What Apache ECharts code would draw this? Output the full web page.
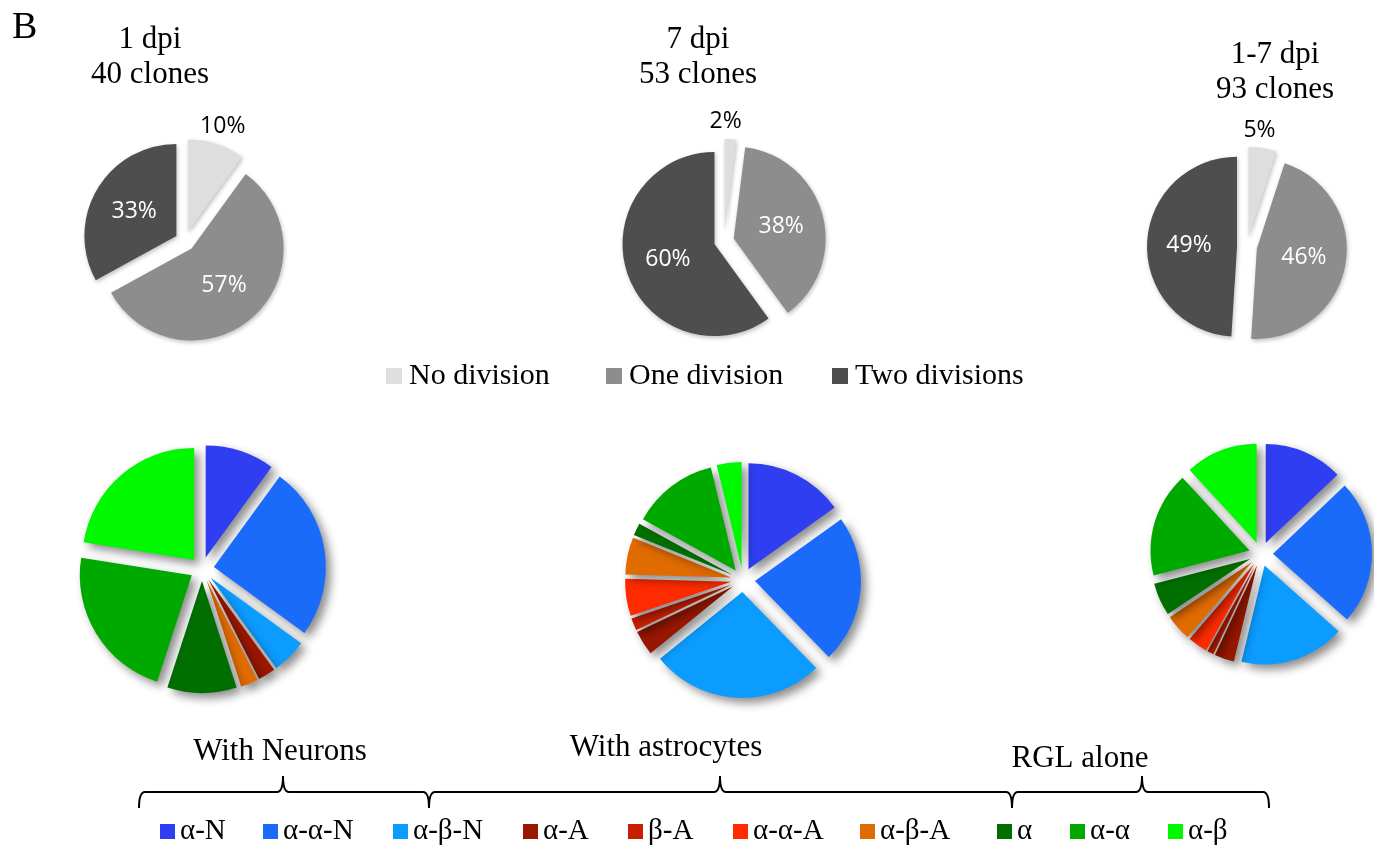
<!DOCTYPE html>
<html>
<head>
<meta charset="utf-8">
<script src="https://cdn.jsdelivr.net/npm/echarts@6/dist/echarts.min.js"></script>
<style>
  html, body { margin: 0; padding: 0; background: #fff; }
  #chart { width: 1374px; height: 849px; }
</style>
</head>
<body>
<div id="chart"></div>
<script>
// ---- data ----
const divisionNames = ['No division', 'One division', 'Two divisions'];
const division1dpi = [10, 57, 33];
const division7dpi = [2, 38, 60];
const division17dpi = [5, 46, 49];

const panelTitles = ['1 dpi\n40 clones', '7 dpi\n53 clones', '1-7 dpi\n93 clones'];

const cloneNames = ['α-N', 'α-α-N', 'α-β-N', 'α-A', 'β-A', 'α-α-A', 'α-β-A', 'α', 'α-α', 'α-β'];
const clones1dpi = [4, 10, 2, 1, 0, 0, 1, 4, 9, 9];
const clones7dpi = [8, 12, 14, 2, 1, 3, 3, 1, 7, 2];
const clones17dpi = [12, 22, 16, 3, 1, 3, 4, 5, 16, 11];

const groupNames = ['With Neurons', 'With astrocytes', 'RGL alone'];

// ---- styles & layout ----
const SERIF = '"Liberation Serif", "Times New Roman", serif';
const SANS = '"Open Sans", "Noto Sans", sans-serif';
const divisionColors = ['#dedede', '#8d8d8d', '#4e4e4e'];
const cloneColors = ['#2e3ef0', '#1b6bfb', '#0c9bff', '#991700', '#c91f00', '#ff2b00',
                     '#e06b00', '#006f00', '#00a900', '#00f800'];

const topLayout = [
  { center: [185, 241], radius: 92, title: [150, 22] },
  { center: [724, 241], radius: 92, title: [698, 22] },
  { center: [1247, 247], radius: 90, title: [1275, 37] }
];
const bottomLayout = [
  { center: [202, 569], radius: 112 },
  { center: [743, 580], radius: 106 },
  { center: [1261, 554], radius: 99 }
];
const divisionLegendX = [386, 606, 832];
const cloneLegendX = [160, 263, 393, 523, 628, 733, 860, 997, 1070, 1168];
// bracket: [left, right, peak]
const bracketSpans = [[139, 429, 283], [429, 1012, 720], [1012, 1269, 1142]];
const groupLabelPos = [[280, 734], [666, 730], [1080, 741]];
const bracketY = 792;

function divisionSeries(values, lay) {
  return {
    type: 'pie',
    center: lay.center,
    radius: lay.radius,
    startAngle: 90,
    selectedMode: 'multiple',
    selectedOffset: 10,
    avoidLabelOverlap: false,
    animation: false,
    emphasis: { disabled: true },
    itemStyle: { shadowBlur: 4, shadowColor: 'rgba(0,0,0,0.25)', shadowOffsetX: 1, shadowOffsetY: 2 },
    label: { show: true, formatter: '{c}%', fontFamily: SANS, fontSize: 23 },
    labelLine: { show: false, length: 18, length2: 0 },
    data: values.map(function (v, i) {
      // the thin "No division" slice carries its label just above the slice
      const label = i === 0
        ? { position: 'outside', color: '#000', alignTo: 'none', distanceToLabelLine: -22 }
        : { position: 'inside', color: '#fff' };
      return {
        name: divisionNames[i], value: v, selected: true,
        itemStyle: { color: divisionColors[i] },
        label: label
      };
    })
  };
}

function cloneSeries(values, lay) {
  return {
    type: 'pie',
    center: lay.center,
    radius: lay.radius,
    startAngle: 90,
    selectedMode: 'multiple',
    selectedOffset: 12,
    animation: false,
    emphasis: { disabled: true },
    label: { show: false },
    labelLine: { show: false },
    itemStyle: { shadowBlur: 10, shadowColor: 'rgba(0,0,0,0.45)', shadowOffsetX: 5, shadowOffsetY: 5 },
    data: values.map(function (v, i) {
      return { name: cloneNames[i], value: v, selected: true, itemStyle: { color: cloneColors[i] } };
    })
  };
}

const titles = [{
  text: 'B', left: 12, top: 9, padding: 0,
  textStyle: { fontFamily: SERIF, fontSize: 38, fontWeight: 'normal', color: '#000' }
}];
panelTitles.forEach(function (t, i) {
  titles.push({
    text: t, left: topLayout[i].title[0], top: topLayout[i].title[1], textAlign: 'center', padding: 0,
    textStyle: { fontFamily: SERIF, fontSize: 31, fontWeight: 'normal', color: '#000', lineHeight: 35 }
  });
});
groupNames.forEach(function (g, i) {
  titles.push({
    text: g, left: groupLabelPos[i][0], top: groupLabelPos[i][1], textAlign: 'center', padding: 0,
    textStyle: { fontFamily: SERIF, fontSize: 31, fontWeight: 'normal', color: '#000', lineHeight: 36 }
  });
});

const legends = [];
divisionNames.forEach(function (n, i) {
  legends.push({
    data: [n], left: divisionLegendX[i], top: 361, padding: 0, icon: 'rect',
    itemWidth: 16, itemHeight: 16, selectedMode: false,
    itemStyle: { shadowBlur: 0 },
    textStyle: { fontFamily: SERIF, fontSize: 30, color: '#000', padding: [0, 0, 0, 2] }
  });
});
cloneNames.forEach(function (n, i) {
  legends.push({
    data: [n], left: cloneLegendX[i], top: 817, padding: 0, icon: 'rect',
    itemWidth: 15, itemHeight: 15, selectedMode: false,
    itemStyle: { shadowBlur: 0 },
    textStyle: { fontFamily: SERIF, fontSize: 29, color: '#000' }
  });
});

// curly brackets grouping the clone types
const graphics = [];
const lineStyle = { stroke: '#000', lineWidth: 2, fill: null };
bracketSpans.forEach(function (b) {
  const x0 = b[0], x1 = b[1], xp = b[2], y = bracketY, r = 6, drop = 16, rise = 16;
  graphics.push(
    { type: 'bezierCurve', shape: { x1: x0, y1: y + drop, cpx1: x0, cpy1: y, x2: x0 + r, y2: y }, style: lineStyle },
    { type: 'line', shape: { x1: x0 + r, y1: y, x2: xp - r, y2: y }, style: lineStyle },
    { type: 'bezierCurve', shape: { x1: xp - r, y1: y, cpx1: xp, cpy1: y, x2: xp, y2: y - rise }, style: lineStyle },
    { type: 'bezierCurve', shape: { x1: xp, y1: y - rise, cpx1: xp, cpy1: y, x2: xp + r, y2: y }, style: lineStyle },
    { type: 'line', shape: { x1: xp + r, y1: y, x2: x1 - r, y2: y }, style: lineStyle },
    { type: 'bezierCurve', shape: { x1: x1 - r, y1: y, cpx1: x1, cpy1: y, x2: x1, y2: y + drop }, style: lineStyle }
  );
});

const chart = echarts.init(document.getElementById('chart'), null, { renderer: 'canvas' });
chart.setOption({
  backgroundColor: '#ffffff',
  animation: false,
  title: titles,
  legend: legends,
  graphic: graphics,
  series: [
    divisionSeries(division1dpi, topLayout[0]),
    divisionSeries(division7dpi, topLayout[1]),
    divisionSeries(division17dpi, topLayout[2]),
    cloneSeries(clones1dpi, bottomLayout[0]),
    cloneSeries(clones7dpi, bottomLayout[1]),
    cloneSeries(clones17dpi, bottomLayout[2])
  ]
});
</script>
</body>
</html>
